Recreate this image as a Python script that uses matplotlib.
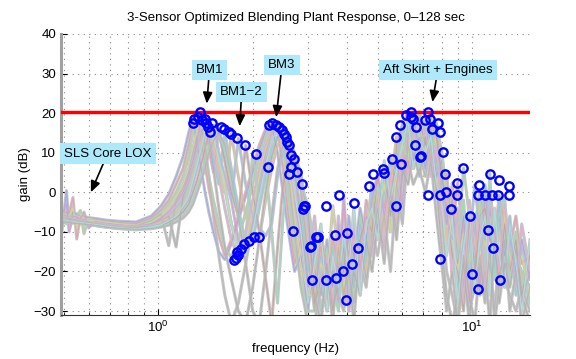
import matplotlib
matplotlib.use("Agg")
import matplotlib.pyplot as plt
import numpy as np

plt.rcParams['font.family'] = ['Liberation Sans', 'DejaVu Sans']
plt.rcParams['font.size'] = 9.5

# shared frequency grid (Hz)
freq = [0.49, 0.51, 0.52, 0.535, 0.55, 0.565, 0.58, 0.60, 0.63, 0.68, 0.75, 0.85,
        0.95, 1.02, 1.08, 1.14,
        1.20, 1.25, 1.29, 1.33, 1.37, 1.41, 1.45, 1.50, 1.56, 1.63, 1.71, 1.80,
        1.90, 2.00, 2.10, 2.20, 2.30, 2.40, 2.50, 2.60, 2.72, 2.85, 3.00,
        3.15, 3.30, 3.45, 3.60, 3.75, 3.90, 4.05, 4.20, 4.40, 4.60, 4.80, 5.00,
        5.25, 5.50, 5.75, 6.00, 6.25, 6.50, 6.80, 7.10, 7.40, 7.70, 8.00, 8.30,
        8.65, 9.00, 9.40, 9.80, 10.2, 10.6, 11.0, 11.4, 11.8, 12.2, 12.7, 13.2,
        13.8, 14.4, 15.3]

# gain (dB) of each response, low / mid / high part of the grid
low_gain = [
    [-12, 0.4, -8, -5, -5.5, -6, -6.2, -6.4, -6.6, -7, -7.3, -7.5, -6, -3.5, -0.5, 4],
    [-6, -5, -5.5, -1.3, -11.8, -6, -6, -6.5, -6.8, -7.2, -7.6, -7.9, -6.5, -4.5, -2, 2],
    [-5, -5.5, -6, -6, -6, -4.6, -10.5, -6.5, -7, -7.4, -7.8, -8.2, -7, -5, -3, 0],
    [-5.5, -6, -6, -4, -9, -5.5, -6.5, -7, -7.3, -7.6, -8, -8.4, -7.5, -6, -4, -1],
    [-6, -3, -10, -6, -6.3, -6.6, -5, -9, -7.4, -7.8, -8.2, -8.6, -8, -6.5, -5, -2.5],
    [-6.5, -6.5, -6.5, -6.8, -7, -7, -7.2, -7.4, -7.6, -8, -8.4, -8.8, -8, -7, -6, -4],
    [-7, -6, -8, -7, -7, -7, -7.3, -7.6, -7.9, -8.3, -8.7, -9, -8.5, -7.5, -6.5, -5],
    [-5, -7, -6, -7, -6.5, -7.5, -6.8, -7.6, -8, -8.4, -8.8, -9.2, -8.5, -8, -7, -6],
    [-6, -6, -6.5, -7, -7.2, -7.4, -7.6, -7.8, -8.2, -8.6, -9, -9.3, -9, -8.5, -7.5, -6.5],
    [-4, -8, -6, -7, -7, -7.5, -7.8, -8, -8.4, -8.8, -9.2, -9.5, -9, -8.5, -8, -7],
    [-7, -6.6, -6.8, -7, -7, -7.3, -7.4, -7.5, -7.8, -8.2, -8.5, -8.5, -7.2, -5.5, -13.5, -2],
    [-7.5, -7, -7.2, -7.4, -7.5, -7.6, -7.8, -8, -8.2, -8.6, -9, -9, -8, -7, -6, -13.8],
    [-6, -6.2, -6.4, -6.6, -6.8, -7, -7.1, -7.3, -7.6, -8, -8.3, -8.6, -8.2, -7.2, -5.8, -3.5],
    [-7, -7, -7.2, -7.3, -7.5, -7.6, -7.7, -7.9, -8.1, -8.5, -8.9, -9.2, -8.8, -8.2, -7.2, -6],
    [-8, -7.5, -7.6, -7.8, -7.9, -8, -8.1, -8.2, -8.4, -8.8, -9.1, -9.4, -9.2, -8.8, -8.3, -7.5],
]
mid_gain = [
    [9, 15, 18.6, 12, 6, 0, -5, -10, -15, -17, -13, -7, -1, 5, 11, 15.5, 17, 10, 0, -10, -20, -16, -30],
    [6, 12, 17.5, 20.3, 13, 7, 1, -5, -11, -16, -12, -6, 0, 6, 12, 16, 17.4, 16, 6, -6, -18, -12, -27],
    [4, 9, 15, 18.2, 17.6, 10, 4, -2, -8, -14, -16.5, -12, -5, 2, 9, 14, 17, 17.1, 12, 0, -14, -22, -30],
    [2, 6, 11, 16, 19, 15, 9, 16.5, 10, 2, -8, -15, -13, -4, 4, 11, 15, 17, 16.5, 8, -6, -18, -26],
    [0, 4, 8, 13, 18.6, 17.4, 11, 5, 16.1, 8, -2, -12, -14.4, -8, 0, 8, 13, 16, 15.7, 12, -2, -12, -24],
    [-2, 2, 6, 10, 15, 18.2, 16, 8, 2, 15.2, 6, -4, -13, -12.3, -4, 4, 11, 14, 14.8, 14, 4, -4, -20],
    [-3, 0, 4, 8, 12, 16, 17.6, 12, 6, 0, 14.8, 4, -6, -10, -11.4, -2, 6, 12, 13, 12.7, 9, 2, -14],
    [-4, -2, 2, 6, 10, 14, 17.4, 16.6, 10, 4, -2, 13.6, 2, -6, -9, -11, -8, 4, 10, 11.9, 9.3, 5, -8],
    [-5, -3, 0, 3, 7, 11, 15, 17, 15.2, 8, 0, -6, 11.9, 0, -10, -22, -33, -14, 2, 8, 8.5, 2.1, -4],
    [-6, -4, -2, 1, 4, 8, 12, 15.2, 14.8, 10, 2, -6, -12, 9.7, -2, 6.5, -10, -28, -6, 4, 4.7, 2, -3.4],
    [1, 5, 10, 14, 16, 12, 4, -6, -16, -26, -33, -28, -18, -8, 2, 10, 15, 16.5, 14, 4, -10, -24, -33],
    [-1, 3, 7, 12, 15, 17, 14, 6, -4, -14, -22, -30, -33, -24, -12, 0, 9, 14, 16, 15, 6, -8, -22],
    [-0.5, 3, 7, 11, 16, 19, 15, 10, 4, -4, -12, -16.5, -10, -2, 6, 12, 16, 17, 13, 9, -2, 4, -18],
    [-3.5, -1, 3, 7, 11, 15, 18, 14, 8, 1, -8, -14, -16, -10, -1, 7, 13, 16, 16, 10, 0, -10, -28],
    [-6.5, -5, -3, 0, 3, 6, 10, 13, 15, 12, 4, -6, -18, -30, -33, -20, -6, 6, 12, 14, 10, 0, -16],
]
high_gain = [
    [-14, -26, -12, -24, -8, -20, -6, -18, -4, -12, 2, -6, 5, -2, 10, 4, 17, 8, 14, 6,
     16, 4, 8, -8, -2, -18, -6, -22, -8, -2, -14, -4, -18, -6, -16, -8, -20, -12, -22],
    [-22, -13.7, -28, -11, -20, -4, -16, -9, -20, -2, -8, 4, -4, 8.5, 2, 14, 6, 19.5, 10, 18,
     8, 17.4, 2, 4.7, -10, 2.4, -12, -6, -20, 0, -10, 2, -12, -1, -8, -14, -6, -18, -16],
    [-30, -20, -14, -30, -10, -22, -12, -26, -6, -16, 0, -8, 5.9, -4, 10, 17.1, 10, 16, 20.3, 12,
     18, 10, 6, -4, -8, -14, 6.1, -6, -24, -4, -12, -1, -9.5, -4, -10, -18, -10, -24, -14],
    [-26, -18, -22, -3.4, -16, -24, -12, -18, -14, -10, 1.5, -6, 2, -10, 5, 12, 8, 20.3, 14, 16,
     18.6, 12, 10.3, -2, -12, -20, -10, -16, -20.7, -0.8, -14, -6, -16, -22, -6, -16, -22, -16, -26],
    [-18, -30, -22, -20, -28, -0.8, -20, -10, -18, -14, -2, 4.5, -6, 4, 9, -3, 14, 18, 19, 16.5,
     14, 8, 0, -8, -4.2, -16, -8, -28, -6, -24.4, -0.8, -10, -20, -2, -24, -12, -18, -28, -20],
    [-12, -22, -26, -14, -21.6, -12, -27, -14, -10.4, -18, -8, -2, 4.9, 0, -4, 7.2, 18, 12, 16, 8,
     15, 6, 4, -6, -16, -24, -12, -8, -18, -14, 1.9, -8, -22, -0.8, -20, -10, -26, -20, -24],
    [-20, -11.2, -20, -22, -10.8, -28, -18.2, -22, -14, -20, -6, 0, -10, 2, 14, 6, 16, 11.9, 9.1, 18.2,
     10, 15.2, -4, -12, 2.4, -10, -22, -6.1, -12, -20, -9.5, -22, -14, -12, -4, -20, -14, -22, -18],
    [-24, -16, -22, -19.9, -26, -16, -12, -24, -8, -16, 1.5, -10, 0, -3.4, 8, 16, 14, 19, 8.9, 16.3,
     12, 16.1, 0, -6, -12, -6, -24, -14, 1.9, -10, -12, -0.8, -18, -8, -14, -6, -24, -14, -20],
    [-28, -22.2, -18, -30, -22, -20, -10.4, -16, -12, -6, -10, 4, 5.9, -6, 12, 17.1, 20.3, 16.5, 18.2, 12,
     17.4, 14, 4.7, -4, -16, -20, -30, -6, -20.7, -6, -4, -12, -14, -22.2, -8, -20, -12, -26, -16],
    [-13.7, -30, -22.2, -21.6, -30, -14, -22, -18.2, -20, -14, -4, 2, -2, 8.5, 4, 14, 8, 14, 6, 18.6,
     10, 17.4, 10.3, 0, -8, -16.9, -2, -22, -8, -0.8, -20, 4.7, -22, -6, -0.8, -22, -16, -20, -28],
    [-33, -24, -30, -20, -26, -30, -20, -28, -18, -24, -10, -16, -6, -20, 2, -8, 12, 6, 10, 4,
     12, 0, -6, -20, -26, -33, -22, -30, -24, -16, -26, -18, -30, -16, -22, -26, -30, -24, -30],
    [-26, -33, -18, -28, -24, -14, -30, -20, -26, -12, -20, -8, -14, -2, -12, 6, 2, 10, 4, 14,
     6, 2, -14, -26, -33, -26, -18, -33, -14, -26, -20, -33, -10, -28, -18, -24, -14, -26, -33],
    [-6, -24, -16, -28, -6, -18, -30, -8, -22, -4, -16, -2, -14, 4, -8, 10, 4, 16, 10, 17,
     4, 12, -8, 0, -22, -4, -28, -2, -16, -6, -24, -2, -12, -20, -3, -14, -24, -8, -20],
    [-18, -8, -30, -16, -24, -10, -20, -4, -26, -8, -4, -12, 8, -2, 6, 12, 18, 6, 13, 10,
     14, 2, -2, -16, -6, -28, -14, -4, -24, -12, -6, -26, -4, -16, -24, -8, -18, -30, -12],
    [-30, -10, -20, -33, -14, -26, -18, -33, -12, -22, -14, -4, -18, 0, -10, 4, 8, 2, 6, 0,
     8, -6, -18, -30, -20, -33, -16, -26, -33, -18, -28, -14, -33, -24, -12, -30, -20, -33, -24],
]
line_colors = ['#a0a8e8', '#e8a0a8', '#a8d8a8', '#d8d890', '#d0a0d8', '#90d0d8',
               '#e8c090', '#a0c0e8', '#c8a0a0', '#a0d8c0', '#b8b8b8', '#b0b0b0',
               '#e0b0d0', '#b0e0e0', '#b4b4b4']

# peak markers
peak_freq = [1.36, 1.30, 1.295, 1.343, 1.38, 1.41, 1.425, 1.446, 1.46, 1.48, 1.58, 1.615,
             1.676, 1.70, 1.78, 1.89, 2.05, 2.235,
             2.25, 2.30, 2.37, 2.42, 2.48, 2.52, 2.55, 2.57, 2.61, 2.65, 2.71, 2.65, 2.61,
             2.77, 2.87, 2.94, 2.89, 2.69, 3.07, 3.18,
             1.75, 1.765, 1.78, 1.80, 1.83, 1.87, 1.94, 2.02, 2.09,
             2.92, 3.05, 3.22, 3.42, 3.76, 4.20, 3.66, 4.01, 4.32, 3.10, 3.42, 3.68, 3.87,
             3.97, 4.15, 4.71, 4.83, 5.20, 5.26, 5.71, 5.57, 5.95, 5.74, 5.91, 6.14, 6.41,
             6.48, 6.61, 6.56, 6.81,
             7.24, 6.41, 7.07, 7.33, 7.43, 7.80, 7.89, 6.87, 8.06, 8.19, 9.38, 8.93, 8.26,
             7.24, 7.89, 8.93, 8.55, 9.86, 10.55, 11.42, 12.21, 13.07, 10.47, 11.01, 11.56,
             12.14, 13.07, 11.28, 11.70, 12.30, 10.47, 9.98, 7.89]
peak_gain = [20.3, 18.6, 17.6, 19.0, 18.2, 18.6, 17.4, 16.5, 15.2, 17.4, 16.5, 16.1,
             15.2, 14.8, 13.6, 11.9, 9.7, 6.5,
             17.1, 17.4, 17.1, 16.5, 15.7, 14.8, 14.0, 12.7, 11.9, 9.3, 8.5, 6.3, 4.7,
             5.1, 2.1, -3.4, -4.2, -9.7, -13.5, -11.4,
             -17.0, -16.5, -15.2, -15.8, -14.4, -13.1, -12.3, -11.4, -11.4,
             -3.4, -13.7, -11.2, -3.4, -0.8, -2.8, -10.8, -10.4, -14.0, -22.2, -22.2, -21.6, -19.9,
             -27.2, -18.2, 1.5, 4.5, 5.9, 4.9, -3.4, 8.5, 7.2, 14.0, 17.1, 19.5, 20.3,
             18.6, 16.5, 11.9, 8.9,
             20.3, 19.0, 18.2, 18.6, 16.1, 17.4, 15.2, 9.1, 10.3, 4.7, 6.1, 2.4, 0.0,
             -0.7, -0.7, -0.7, -4.2, -6.1, 1.9, 4.7, 3.0, 1.5, -0.8, -0.8, -0.8,
             -0.8, -0.8, -9.5, -14.0, -22.2, -24.4, -20.7, -16.9]

limit_db = 20.3

# labels: text, text position (Hz, dB), arrow tip (Hz, dB)
notes = [
    ('SLS Core LOX', (0.69, 9.8), (0.61, 0.0)),
    ('BM1', (1.457, 30.9), (1.428, 22.4)),
    ('BM1\u22122', (1.845, 25.3), (1.818, 16.7)),
    ('BM3', (2.48, 32.2), (2.377, 19.0)),
    ('Aft Skirt + Engines', (7.78, 30.9), (7.48, 22.8)),
]

fig = plt.figure(figsize=(5.76, 3.59), dpi=100)
ax = fig.add_axes([0.1059, 0.1226, 0.8142, 0.7827])

for lo, mi, hi, c in zip(low_gain, mid_gain, high_gain, line_colors):
    g = lo + mi + hi
    ax.plot(freq, g, color='#c6c6c6', lw=2.2, zorder=2, solid_joinstyle='round')
    ax.plot(freq, g, color=c, lw=0.8, zorder=2.1, alpha=0.9)

ax.axhline(limit_db, color='#ff0000', lw=2.4, zorder=3)
ax.plot(peak_freq, peak_gain, 'o', ms=6, mfc='none', mec='#0000ff', mew=1.7, zorder=4)

for txt, pos, tip in notes:
    ax.annotate(txt, xy=tip, xytext=pos, ha='center', va='center', fontsize=9.5,
                bbox=dict(boxstyle='square,pad=0.32', fc='#aee8fb', ec='none'),
                arrowprops=dict(arrowstyle='-|>,head_length=0.7,head_width=0.3',
                                color='black', lw=1.2, shrinkA=0, shrinkB=0),
                zorder=6)

ax.set_xscale('log')
ax.set_xlim(0.49, 15.3)
ax.set_ylim(-31, 40)
ax.set_yticks(np.arange(-30, 41, 10))
ax.grid(True, which='major', ls=(0, (1, 4)), color='#888888', lw=0.8)
ax.grid(True, which='minor', axis='x', ls=(0, (1, 4)), color='#888888', lw=0.8)
ax.set_axisbelow(True)
ax.tick_params(which='both', direction='in', top=False, right=False)
ax.tick_params(which='major', length=4)
ax.tick_params(which='minor', length=2)
ax.spines['top'].set_visible(False)
ax.spines['right'].set_visible(False)
ax.spines['left'].set_color('#a0a0a0')
ax.spines['left'].set_linewidth(2.2)
ax.spines['bottom'].set_color('#333333')

ax.set_title('3-Sensor Optimized Blending Plant Response, 0\u2013128 sec', fontsize=9.5, pad=9)
ax.set_xlabel('frequency (Hz)', labelpad=6)
ax.set_ylabel('gain (dB)', labelpad=2)

fig.savefig('out.png', dpi=100)
